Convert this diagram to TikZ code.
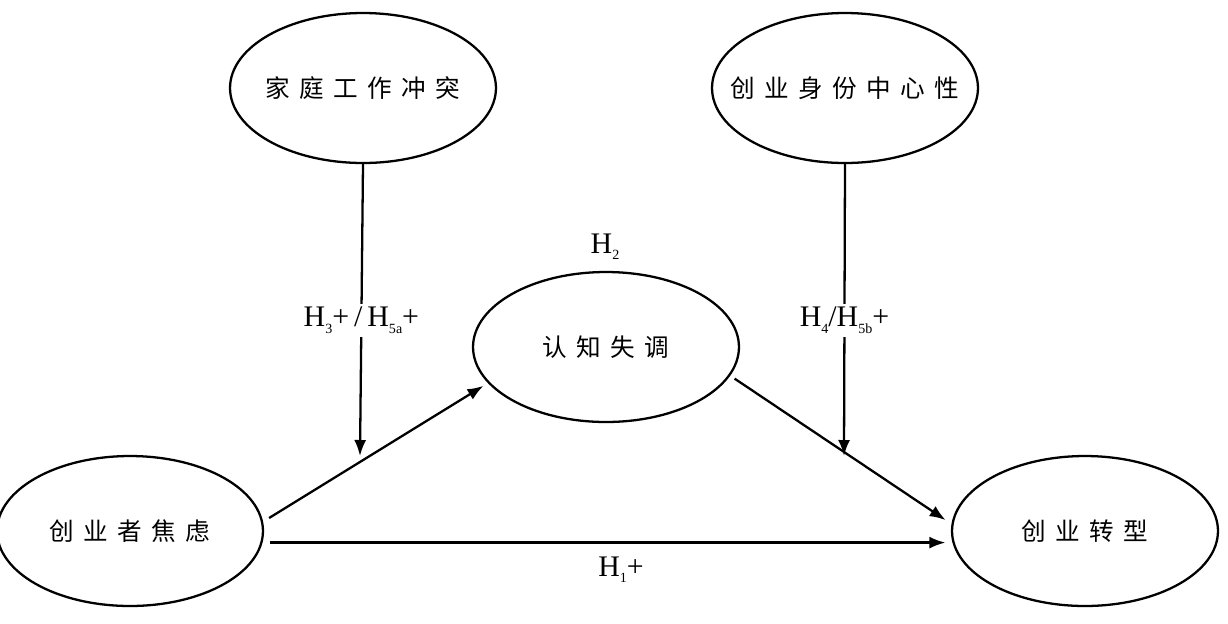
\documentclass[tikz,border=0pt]{standalone}
\usepackage{fontspec}
\setmainfont{Liberation Serif}
\newfontfamily\cjk[LetterSpace=38]{Noto Sans CJK SC}
\usepackage{tikz}
\usetikzlibrary{calc}
\usetikzlibrary{shapes,arrows,arrows.meta,positioning}
\usetikzlibrary{shapes.geometric}
\newcommand{\hsub}[1]{\raisebox{-0.45ex}{\footnotesize #1}}
\newcommand{\vname}[1]{\makebox[0pt]{#1}}

\begin{document}
\begin{tikzpicture}[x=0.02cm,y=-0.02cm,
	var/.style={ellipse,draw,line width=1.3pt,minimum width=5.32cm,minimum height=3cm,inner sep=0pt,font=\cjk\fontsize{14}{16}\selectfont},
	arr/.style={-{Latex[length=3.2mm,width=2.4mm]},line width=1.3pt},
	hyp/.style={font=\fontsize{17}{19}\selectfont,fill=white,inner sep=2pt}]
	\useasboundingbox (0,0) rectangle (1228,623);
	\node[var] (fam) at (363,88) {\vname{家庭工作冲突}};
	\node[var] (cen) at (845,88) {\vname{创业身份中心性}};
	\node[var] (dis) at (606,347) {\vname{认知失调}};
	\node[var] (anx) at (130,531) {\vname{创业者焦虑}};
	\node[var] (trans) at (1085,531) {\vname{创业转型}};
	% end points of the moderating arrows
	\coordinate (t1) at (360,456);
	\coordinate (t2) at (844,456);
		\draw[arr,shorten <=4pt,shorten >=3pt] (anx.4) -- (dis.197);
		\draw[arr,shorten <=4pt,shorten >=4pt] (anx.-5) -- (trans.-175);
		\draw[arr,shorten <=3pt,shorten >=4pt] (dis.-13) -- (trans.177);
		\draw[arr] (fam.south) -- (t1) node[hyp,pos=0.535] {H\hsub{3}+\,/\,H\hsub{5a}+};
		\draw[arr] (cen.south) -- (t2) node[hyp,pos=0.535] {H\hsub{4}/H\hsub{5b}+};
	\node[hyp] (h2) at (605,247) {H\hsub{2}};
	\node[hyp] (h1) at (621,570) {H\hsub{1}+};
\end{tikzpicture}
\end{document}
